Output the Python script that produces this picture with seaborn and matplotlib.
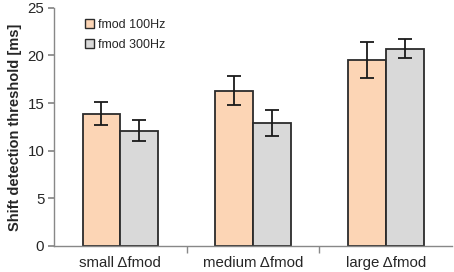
import pandas as pd
import numpy as np
import matplotlib
matplotlib.use("Agg")
import matplotlib.pyplot as plt
import seaborn as sns

# Data
conditions = ["small \u0394fmod", "medium \u0394fmod", "large \u0394fmod"]
groups = ["fmod 100Hz", "fmod 300Hz"]
thr_100 = [13.9, 16.3, 19.5]
thr_300 = [12.1, 12.9, 20.7]
err_100 = [1.2, 1.5, 1.9]
err_300 = [1.1, 1.4, 1.0]
y_ticks = [0, 5, 10, 15, 20, 25]

df = pd.DataFrame({
    "condition": conditions * 2,
    "group": [groups[0]] * 3 + [groups[1]] * 3,
    "threshold": thr_100 + thr_300,
    "err": err_100 + err_300,
})

sns.set_theme(style="white")
plt.rcParams["font.family"] = ["Liberation Sans", "DejaVu Sans"]

palette = {groups[0]: "#FCD5B5", groups[1]: "#D9D9D9"}

fig = plt.figure(figsize=(4.54, 2.72), dpi=100)
ax = fig.add_axes([0.119, 0.096, 0.877, 0.875])

sns.barplot(data=df, x="condition", y="threshold", hue="group",
            order=conditions, hue_order=groups, palette=palette,
            saturation=1, width=0.57, edgecolor="#2b2b2b", linewidth=1.3,
            errorbar=None, ax=ax)

# manual error bars from the drawn bars
for cont, g in zip(ax.containers, groups):
    sub = df[df["group"] == g].set_index("condition").reindex(conditions)
    xs = [p.get_x() + p.get_width() / 2 for p in cont.patches]
    ax.errorbar(xs, sub["threshold"], yerr=sub["err"], fmt="none",
                ecolor="#1a1a1a", elinewidth=1.3, capsize=5, capthick=1.3)

ax.set_xlim(-0.5, 2.5)
ax.set_ylim(0, 25)
ax.set_yticks(y_ticks)
ax.set_xlabel("")
ax.set_ylabel("Shift detection threshold [ms]", fontsize=10.5, fontweight="bold")
ax.tick_params(axis="y", labelsize=10.8, length=4, color="#888888", left=True, pad=3)
ax.tick_params(axis="x", labelsize=10.8, length=0, pad=7)

# tick marks between categories
ax.set_xticks([0.5, 1.5], minor=True)
ax.tick_params(axis="x", which="minor", length=5, color="#888888", bottom=True)

sns.despine(ax=ax)
for s in ["left", "bottom"]:
    ax.spines[s].set_color("#888888")
    ax.spines[s].set_linewidth(1.0)

leg = ax.legend(loc="upper left", bbox_to_anchor=(0.05, 1.0), frameon=False,
                fontsize=9, handlelength=0.7, handleheight=0.7,
                handletextpad=0.3, labelspacing=0.6)
for h in leg.legend_handles:
    h.set_edgecolor("#2b2b2b")
    h.set_linewidth(1.0)

fig.savefig("out.png", dpi=100)
